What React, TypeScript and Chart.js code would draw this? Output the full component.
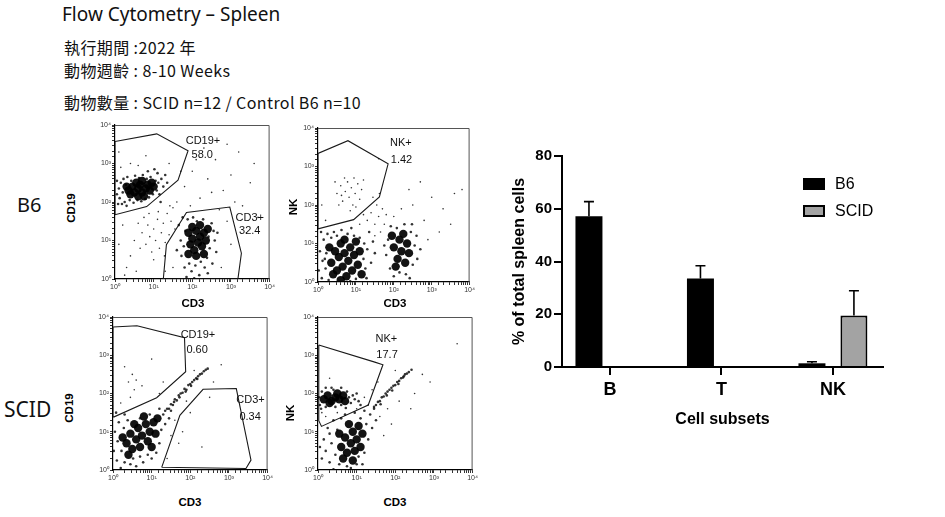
import { useEffect, useRef } from "react";
import { Chart, registerables } from "chart.js";

Chart.register(...registerables);

type Pt = [number, number];

const FONT = '"Liberation Sans", Arial, sans-serif';

// ---- bar chart data ----
const subsets = ["B", "T", "NK"];
const b6Values = [57.2, 33.6, 1.4];
const b6Errors = [5.5, 4.8, 0.6];
const scidValues = [0, 0, 19.5];
const scidErrors = [0, 0, 9.4];
const percentTicks = [0, 20, 40, 60, 80];

// ---- flow plots, points in decades (log10) ----
const decadeTicks = [0, 1, 2, 3, 4];

const b6CD19Core: Pt[] = [[0.35,2.3],[0.45,2.4],[0.5,2.25],[0.6,2.35],[0.65,2.45],[0.7,2.25],[0.8,2.35],[0.85,2.45],[0.9,2.3],[0.55,2.5],[0.4,2.2],[0.75,2.15],[1.0,2.4],[0.3,2.4],[0.95,2.5],[0.6,2.15],[0.7,2.55],[1.9,1.2],[2.0,1.05],[2.1,1.25],[2.2,1.1],[2.3,1.2],[1.95,0.9],[2.05,0.75],[2.15,0.95],[2.25,0.85],[2.35,1.0],[2.0,1.35],[2.2,1.4],[2.1,0.6],[2.3,0.65],[1.9,0.65],[2.4,1.3]];
const b6CD19Dense: Pt[] = [[0.05,2.2],[0.1,2.35],[0.12,2.1],[0.15,2.5],[0.2,2.25],[0.22,2.6],[0.25,2.0],[0.28,2.45],[0.18,1.95],[0.32,2.65],[0.38,2.05],[0.42,2.55],[0.48,1.98],[0.52,2.68],[0.58,2.05],[0.62,2.62],[0.68,2.02],[0.72,2.7],[0.78,2.08],[0.82,2.6],[0.88,2.12],[0.92,2.65],[0.98,2.2],[1.05,2.55],[1.08,2.3],[1.12,2.5],[1.15,2.2],[1.2,2.6],[1.25,2.4],[1.3,2.7],[1.1,2.75],[1.02,2.85],[0.85,2.8],[0.05,2.55],[0.08,1.95],[1.35,2.5],[1.18,2.0],[0.3,1.9],[1.65,1.4],[1.7,1.0],[1.72,0.6],[1.75,1.6],[1.8,0.3],[1.82,1.25],[1.85,0.05],[1.88,1.55],[1.92,0.4],[1.98,0.2],[2.02,1.6],[2.08,0.35],[2.12,1.5],[2.18,0.1],[2.22,0.45],[2.28,1.55],[2.32,0.3],[2.38,0.55],[2.42,1.1],[2.45,0.8],[2.5,1.45],[2.52,0.4],[2.58,1.0],[2.62,0.7],[2.4,0.15],[2.05,0.02],[1.78,0.85],[2.55,1.25],[2.65,1.2],[1.6,0.75]];
const b6CD19Sparse: Pt[] = [[0.7,1.2],[0.8,0.9],[0.85,1.4],[0.9,1.1],[0.95,0.7],[1.0,1.3],[1.05,1.0],[1.1,1.55],[1.15,0.8],[1.2,1.2],[1.25,1.45],[1.3,0.95],[1.35,1.7],[1.4,1.15],[1.45,1.5],[1.5,1.85],[1.55,1.3],[1.6,2.0],[0.75,1.6],[0.65,0.8],[1.0,0.5],[1.12,1.75],[0.88,1.7],[1.28,0.6],[1.42,1.9],[0.6,1.45],[0.5,1.0],[0.4,0.6],[0.3,0.3],[0.55,0.2],[1.8,2.4],[2.0,2.8],[2.2,2.1],[2.4,2.6],[2.6,3.1],[2.8,2.3],[3.0,2.7],[3.2,3.3],[3.5,2.5],[2.3,3.4],[1.95,1.9],[2.7,1.8],[3.1,2.0],[2.5,2.25],[3.6,3.0],[2.9,3.5],[1.7,2.8],[2.1,3.1],[3.3,1.9],[3.4,1.2],[3.0,0.9],[2.9,1.5],[0.1,3.3],[0.4,3.0],[0.8,3.2],[0.2,1.4],[0.1,0.9],[0.25,0.1],[1.5,0.3],[1.3,0.2],[0.15,2.9],[0.6,2.95],[1.4,3.0],[3.7,1.6],[2.75,0.3]];
const b6CD19Gate: Pt[] = [[0,3.57],[1.08,3.77],[1.89,3.33],[1.63,2.57],[0.82,1.88],[0,1.67]];
const b6CD3Gate: Pt[] = [[1.25,0],[1.33,0.89],[1.85,1.73],[2.97,1.87],[3.27,0.67],[3.18,0]];

const b6NKCore: Pt[] = [[0.35,0.5],[0.45,0.8],[0.5,0.3],[0.55,0.65],[0.6,1.0],[0.65,0.4],[0.7,0.75],[0.75,0.15],[0.8,0.55],[0.85,0.9],[0.9,0.3],[0.95,0.7],[1.0,1.05],[1.05,0.45],[1.1,0.8],[0.4,0.2],[0.7,1.1],[1.15,0.2],[0.3,0.9],[0.6,0.05],[2.0,0.9],[2.1,0.6],[2.15,1.1],[2.2,0.8],[2.3,0.5],[2.35,1.0],[2.25,1.25],[2.05,0.4],[2.4,0.75],[1.95,1.2]];
const b6NKDense: Pt[] = [[0.02,0.3],[0.05,0.8],[0.1,0.1],[0.12,0.55],[0.15,1.1],[0.2,0.35],[0.22,0.75],[0.25,1.25],[0.28,0.05],[0.35,1.15],[0.42,1.3],[0.5,1.2],[0.62,1.35],[0.78,1.25],[0.88,1.4],[0.95,1.2],[1.1,1.15],[1.2,0.6],[1.22,1.0],[1.25,0.35],[1.3,0.85],[1.35,1.3],[1.4,0.5],[1.45,1.05],[1.28,0.1],[0.85,0.02],[1.0,0.08],[0.08,1.3],[0.18,0.6],[1.5,0.75],[1.8,0.7],[1.85,1.1],[1.9,0.35],[1.92,1.45],[2.0,0.15],[2.08,1.4],[2.15,0.25],[2.28,1.5],[2.32,0.2],[2.45,1.3],[2.5,0.45],[2.55,0.95],[2.6,1.2],[2.62,0.6],[2.42,0.1],[1.75,0.95],[2.48,1.5],[2.7,0.85]];
const b6NKSparse: Pt[] = [[0.5,2.3],[0.6,2.5],[0.65,2.1],[0.72,2.35],[0.78,2.6],[0.82,2.2],[0.88,2.45],[0.92,2.0],[0.98,2.3],[1.05,2.55],[1.1,2.15],[0.55,2.0],[0.7,2.7],[1.15,2.4],[0.45,2.6],[0.85,1.85],[1.2,2.65],[0.62,2.25],[0.95,2.7],[1.0,1.95],[1.3,1.6],[1.4,1.8],[1.5,1.5],[1.55,2.0],[1.6,1.7],[1.65,1.3],[1.7,1.9],[1.5,1.2],[1.2,1.75],[1.75,1.5],[1.45,2.2],[1.8,1.75],[1.62,2.3],[2.0,1.7],[1.1,1.5],[2.5,2.0],[2.8,1.6],[3.0,2.2],[3.3,1.9],[3.6,2.3],[3.2,1.3],[2.9,1.1],[1.6,3.2],[2.7,2.6],[3.5,1.5],[0.2,1.6],[0.1,2.0],[2.2,1.9],[3.8,2.4],[2.4,2.4]];
const b6NKGate: Pt[] = [[0,3.34],[0.79,3.67],[1.85,3.07],[1.62,2.21],[0.94,1.62],[0,1.38]];

const scidCD19Core: Pt[] = [[0.35,0.7],[0.45,0.95],[0.5,0.55],[0.6,0.8],[0.65,1.1],[0.7,0.6],[0.75,0.9],[0.85,1.2],[0.9,0.75],[0.95,1.0],[1.05,1.25],[1.1,0.95],[1.15,1.35],[0.55,1.2],[0.8,1.4],[0.4,0.4],[0.25,0.85],[1.0,0.6]];
const scidCD19Dense: Pt[] = [[0.02,0.5],[0.05,1.0],[0.1,0.25],[0.12,0.75],[0.15,1.25],[0.2,0.05],[0.22,0.5],[0.28,1.1],[0.3,0.2],[0.38,1.3],[0.45,0.15],[0.52,0.3],[0.6,0.1],[0.7,0.35],[0.78,0.2],[0.9,0.4],[1.0,0.3],[1.2,0.7],[1.25,1.05],[1.3,1.45],[1.35,1.2],[1.4,1.6],[1.45,1.35],[1.2,1.6],[0.95,1.45],[0.7,1.35],[0.08,1.5],[0.3,1.45],[1.5,1.55],[1.12,0.45],[1.35,1.55],[1.45,1.6],[1.5,1.72],[1.55,1.7],[1.6,1.85],[1.65,1.82],[1.7,1.95],[1.75,2.0],[1.8,2.02],[1.85,2.12],[1.9,2.1],[1.95,2.22],[2.0,2.25],[2.05,2.3],[2.1,2.35],[2.15,2.4],[2.2,2.45],[2.25,2.5],[2.3,2.52],[2.35,2.58],[2.4,2.62],[2.45,2.65],[1.58,1.78],[1.72,1.9],[1.88,2.05],[2.02,2.2],[2.18,2.38]];
const scidCD19Sparse: Pt[] = [[0.4,2.3],[0.5,2.5],[0.55,2.1],[0.6,2.35],[0.75,2.2],[0.45,1.9],[1.3,2.3],[1.0,2.9],[0.3,2.7],[1.6,1.3],[1.8,1.0],[2.0,1.5],[1.7,0.7],[1.9,1.8],[2.3,0.6],[2.5,1.9],[2.1,2.6],[0.2,1.75],[1.5,0.9],[2.6,2.3],[1.4,0.3],[2.8,2.75],[1.2,2.0]];
const scidCD19Gate: Pt[] = [[0,3.74],[0.62,3.77],[1.85,3.46],[1.88,2.57],[1.13,1.89],[0.03,1.39],[0,1.39]];
const scidCD3Gate: Pt[] = [[1.26,0.07],[1.73,1.43],[2.33,2.11],[3.19,2.13],[3.57,0.26],[3.44,0.04]];

const scidNKCore: Pt[] = [[0.15,1.85],[0.25,1.95],[0.35,1.8],[0.45,1.9],[0.55,1.85],[0.65,1.95],[0.3,1.75],[0.5,2.0],[0.7,1.8],[0.6,0.6],[0.7,0.85],[0.75,0.45],[0.85,0.7],[0.9,1.0],[0.95,0.5],[1.0,0.8],[1.05,1.15],[0.8,1.2],[0.65,0.3],[1.1,0.6],[0.55,0.95],[0.9,0.25],[1.15,0.95]];
const scidNKDense: Pt[] = [[0.02,1.9],[0.05,1.7],[0.1,2.05],[0.2,1.65],[0.4,2.1],[0.6,1.7],[0.75,2.05],[0.8,1.9],[0.85,1.75],[0.9,1.95],[0.95,1.85],[1.0,2.0],[1.05,1.8],[0.08,1.6],[0.35,2.15],[0.6,2.15],[0.45,1.65],[1.1,1.7],[0.2,2.15],[0.72,1.62],[0.1,0.3],[0.15,0.8],[0.2,0.5],[0.25,1.1],[0.3,0.2],[0.35,0.7],[0.4,1.3],[0.45,0.4],[0.5,1.05],[0.55,0.15],[0.6,1.35],[0.7,1.45],[0.75,0.1],[0.85,0.05],[1.0,0.15],[1.05,0.35],[1.1,1.35],[1.2,0.45],[1.25,1.2],[1.3,0.8],[1.35,1.45],[1.4,1.1],[1.45,1.6],[1.2,1.55],[0.95,1.5],[0.3,0.95],[0.05,0.6],[0.4,0.02],[1.5,1.3],[1.15,0.15],[1.45,1.65],[1.5,1.7],[1.55,1.78],[1.6,1.8],[1.65,1.9],[1.7,1.92],[1.75,2.0],[1.8,2.05],[1.85,2.1],[1.9,2.15],[1.95,2.2],[2.0,2.22],[2.05,2.3],[2.1,2.33],[2.15,2.4],[2.2,2.42],[2.25,2.5],[2.3,2.52],[2.35,2.56],[2.42,2.62],[1.62,1.72],[1.78,1.95],[1.92,2.08],[2.08,2.25],[2.22,2.45]];
const scidNKSparse: Pt[] = [[1.0,1.6],[1.2,1.9],[1.3,1.7],[0.2,1.4],[0.5,1.5],[1.6,1.4],[1.8,1.6],[1.9,1.2],[2.1,1.8],[2.5,2.0],[2.7,2.5],[3.6,3.3],[2.4,1.6],[0.3,2.4],[1.55,2.3],[2.0,2.6],[2.9,2.3],[1.7,0.9],[0.1,1.5],[1.4,2.1]];
const scidNKGate: Pt[] = [[0.02,3.27],[1.47,2.82],[1.68,2.75],[1.3,1.7],[0.09,1.14],[0.02,1.29]];

type GateLabel = { text: string; x: number; y: number };

const b6CD19Labels: GateLabel[] = [
  { text: "CD19+", x: 1.83, y: 3.59 },
  { text: "58.0", x: 1.98, y: 3.22 },
  { text: "CD3+", x: 3.12, y: 1.58 },
  { text: "32.4", x: 3.21, y: 1.24 },
];
const b6NKLabels: GateLabel[] = [
  { text: "NK+", x: 1.9, y: 3.6 },
  { text: "1.42", x: 1.92, y: 3.17 },
];
const scidCD19Labels: GateLabel[] = [
  { text: "CD19+", x: 1.75, y: 3.54 },
  { text: "0.60", x: 1.9, y: 3.15 },
  { text: "CD3+", x: 3.19, y: 1.83 },
  { text: "0.34", x: 3.27, y: 1.39 },
];
const scidNKLabels: GateLabel[] = [
  { text: "NK+", x: 1.49, y: 3.43 },
  { text: "17.7", x: 1.51, y: 3.0 },
];

const SUP = ["⁰", "¹", "²", "³", "⁴"];

function decadeLabel(value: number | string) {
  const e = Math.log10(Number(value));
  const r = Math.round(e);
  if (Math.abs(e - r) > 1e-6 || !decadeTicks.includes(r)) return "";
  return "10" + SUP[r];
}

type Box = { left: number; top: number; width: number; height: number };

function FlowPlot({
  box,
  core,
  dense,
  sparse,
  gates,
  labels,
}: {
  box: Box;
  core: Pt[];
  dense: Pt[];
  sparse: Pt[];
  gates: Pt[][];
  labels: GateLabel[];
}) {
  const ref = useRef<HTMLCanvasElement>(null);

  useEffect(() => {
    if (!ref.current) return;
    const ctx = ref.current.getContext("2d");
    if (!ctx) return;

    const toXY = (p: Pt) => ({ x: 10 ** p[0], y: 10 ** p[1] });

    const framePlugin = {
      id: "frame",
      afterDraw(chart: Chart) {
        const { ctx: c, chartArea: a } = chart;
        const sx = chart.scales.x;
        const sy = chart.scales.y;
        c.save();
        c.strokeStyle = "#555";
        c.lineWidth = 1;
        c.beginPath();
        c.moveTo(a.left, a.top + 0.5);
        c.lineTo(a.right - 0.5, a.top + 0.5);
        c.lineTo(a.right - 0.5, a.bottom);
        c.stroke();
        c.fillStyle = "#111";
        c.font = `11px ${FONT}`;
        c.textBaseline = "middle";
        labels.forEach((l) => {
          c.fillText(l.text, sx.getPixelForValue(10 ** l.x), sy.getPixelForValue(10 ** l.y));
        });
        c.restore();
      },
    };

    const axis = (fit: (s: any) => void) => ({
      type: "logarithmic" as const,
      min: 1,
      max: 10000,
      border: { color: "#000", width: 1.2 },
      grid: { drawOnChartArea: false, tickLength: 3, color: "#000", lineWidth: 0.8 },
      ticks: {
        autoSkip: false,
        maxRotation: 0,
        padding: 1,
        color: "#333",
        font: { size: 7, family: FONT },
        callback: decadeLabel,
      },
      afterFit: fit,
    });

    const chart = new Chart(ctx, {
      type: "scatter",
      data: {
        datasets: [
          { data: sparse.map(toXY), pointRadius: 0.8, backgroundColor: "rgba(0,0,0,0.8)", borderWidth: 0 },
          { data: dense.map(toXY), pointRadius: 1.3, backgroundColor: "rgba(0,0,0,0.8)", borderWidth: 0 },
          { data: core.map(toXY), pointRadius: 4.2, backgroundColor: "rgba(0,0,0,0.92)", borderWidth: 0 },
          ...gates.map((g) => ({
            data: [...g, g[0]].map(toXY),
            showLine: true,
            pointRadius: 0,
            borderColor: "#1a1a1a",
            borderWidth: 1.1,
            fill: false,
          })),
        ],
      },
      options: {
        responsive: true,
        maintainAspectRatio: false,
        animation: false,
        layout: { padding: { top: 7, right: 6, left: 0, bottom: 0 } },
        plugins: { legend: { display: false }, tooltip: { enabled: false } },
        scales: {
          x: axis((s) => {
            s.height = 14;
          }),
          y: axis((s) => {
            s.width = 20;
          }),
        },
      },
      plugins: [framePlugin],
    });

    return () => chart.destroy();
  }, []);

  return (
    <div
      style={{
        position: "absolute",
        left: box.left - 20,
        top: box.top - 7,
        width: box.width + 26,
        height: box.height + 21,
      }}
    >
      <canvas ref={ref} />
    </div>
  );
}

function BarChart() {
  const ref = useRef<HTMLCanvasElement>(null);

  useEffect(() => {
    if (!ref.current) return;
    const ctx = ref.current.getContext("2d");
    if (!ctx) return;

    const values = [b6Values, scidValues];
    const errors = [b6Errors, scidErrors];

    const errorBars = {
      id: "errorBars",
      afterDatasetsDraw(chart: Chart) {
        const { ctx: c } = chart;
        const sy = chart.scales.y;
        c.save();
        c.strokeStyle = "#000";
        c.lineWidth = 1.6;
        chart.data.datasets.forEach((_, di) => {
          chart.getDatasetMeta(di).data.forEach((bar: any, i) => {
            const e = errors[di][i];
            if (!e) return;
            const top = sy.getPixelForValue(values[di][i] + e);
            c.beginPath();
            c.moveTo(bar.x, bar.y);
            c.lineTo(bar.x, top);
            c.moveTo(bar.x - 5, top);
            c.lineTo(bar.x + 5, top);
            c.stroke();
          });
        });
        c.restore();
      },
    };

    const legend = {
      id: "boxLegend",
      afterDraw(chart: Chart) {
        const { ctx: c } = chart;
        c.save();
        c.font = `16px ${FONT}`;
        c.textBaseline = "middle";
        chart.data.datasets.forEach((ds: any, i) => {
          const y = 44 + i * 27;
          c.fillStyle = ds.backgroundColor;
          c.fillRect(303, y - 6, 22, 12);
          c.strokeStyle = "#000";
          c.lineWidth = 2;
          c.strokeRect(304, y - 5, 20, 10);
          c.fillStyle = "#000";
          c.fillText(ds.label, 335, y + 1);
        });
        c.restore();
      },
    };

    const chart = new Chart(ctx, {
      type: "bar",
      data: {
        datasets: [
          {
            label: "B6",
            data: b6Values.map((y, i) => ({ x: i, y })),
            backgroundColor: "#000",
            borderColor: "#000",
            borderWidth: 0,
            categoryPercentage: 0.753,
            barPercentage: 0.643,
          },
          {
            label: "SCID",
            data: scidValues.map((y, i) => ({ x: i, y })),
            backgroundColor: "#a3a3a3",
            borderColor: "#000",
            borderWidth: 2,
            categoryPercentage: 0.753,
            barPercentage: 0.643,
          },
        ],
      },
      options: {
        responsive: true,
        maintainAspectRatio: false,
        animation: false,
        layout: { padding: { top: 16, right: 37, left: 0, bottom: 0 } },
        plugins: { legend: { display: false }, tooltip: { enabled: false } },
        scales: {
          x: {
            type: "linear",
            min: -0.43,
            max: 2.449,
            offset: false,
            border: { color: "#000", width: 2 },
            grid: { drawOnChartArea: false, offset: false, tickLength: 8, color: "#000", lineWidth: 2 },
            ticks: {
              color: "#000",
              padding: 4,
              font: { size: 18, weight: "bold", family: FONT },
              callback: (_v: any, i: number) => subsets[i] ?? "",
            },
            afterBuildTicks: (s: any) => {
              s.ticks = subsets.map((_, i) => ({ value: i }));
            },
            afterFit: (s: any) => {
              s.height = 63;
            },
            title: {
              display: true,
              text: "Cell subsets",
              color: "#000",
              font: { size: 16, weight: "bold", family: FONT },
              padding: { top: 0, bottom: 1 },
            },
          },
          y: {
            min: 0,
            max: 80,
            border: { color: "#000", width: 2 },
            grid: { drawOnChartArea: false, tickLength: 8, color: "#000", lineWidth: 2 },
            ticks: {
              color: "#000",
              padding: 2,
              font: { size: 15, weight: "bold", family: FONT },
              stepSize: 20,
            },
            afterBuildTicks: (s: any) => {
              s.ticks = percentTicks.map((value) => ({ value }));
            },
            afterFit: (s: any) => {
              s.width = 62;
            },
            title: {
              display: true,
              text: "% of total spleen cells",
              color: "#000",
              font: { size: 16, weight: "bold", family: FONT },
              padding: { top: 10, bottom: 0 },
            },
          },
        },
      },
      plugins: [errorBars, legend],
    });

    return () => chart.destroy();
  }, []);

  return (
    <div style={{ position: "absolute", left: 500, top: 140, width: 420, height: 290 }}>
      <canvas ref={ref} />
    </div>
  );
}

function Text({
  x,
  y,
  size,
  children,
  bold,
  rotate,
}: {
  x: number;
  y: number;
  size: number;
  children: string;
  bold?: boolean;
  rotate?: boolean;
}) {
  return (
    <div
      style={{
        position: "absolute",
        left: x,
        top: y,
        fontSize: size,
        lineHeight: 1,
        fontWeight: bold ? "bold" : "normal",
        fontFamily: FONT,
        whiteSpace: "nowrap",
        color: "#000",
        transform: rotate ? "translate(-50%,-50%) rotate(-90deg)" : "translate(-50%,-50%)",
      }}
    >
      {children}
    </div>
  );
}

function Line({
  x,
  y,
  size,
  family,
  spacing,
  children,
}: {
  x: number;
  y: number;
  size: number;
  family: string;
  spacing?: number;
  children: string;
}) {
  return (
    <div
      style={{
        position: "absolute",
        left: x,
        top: y,
        fontSize: size,
        lineHeight: 1,
        fontFamily: family,
        letterSpacing: spacing ?? 0,
        whiteSpace: "nowrap",
        color: "#111",
      }}
    >
      {children}
    </div>
  );
}

export default function App() {
  const cjk = '"Noto Sans CJK TC", "Noto Sans", sans-serif';
  const latin = '"Noto Sans", "Open Sans", sans-serif';
  return (
    <div style={{ position: "absolute", left: 0, top: 0, width: 945, height: 517, background: "#fff", overflow: "hidden" }}>
      <Line x={62} y={5} size={19} family={latin}>Flow Cytometry – Spleen</Line>
      <Line x={64} y={39} size={16} family={cjk} spacing={0.4}>執行期間 :2022 年</Line>
      <Line x={64} y={62} size={16} family={cjk} spacing={0.4}>動物週齡 : 8-10 Weeks</Line>
      <Line x={64} y={94} size={16} family={cjk} spacing={0.4}>動物數量 : SCID n=12 / Control B6 n=10</Line>

      <Line x={17} y={195} size={20} family={latin}>B6</Line>
      <Line x={4} y={399} size={21} family={latin}>SCID</Line>

      <FlowPlot
        box={{ left: 115, top: 125, width: 155, height: 154 }}
        core={b6CD19Core}
        dense={b6CD19Dense}
        sparse={b6CD19Sparse}
        gates={[b6CD19Gate, b6CD3Gate]}
        labels={b6CD19Labels}
      />
      <FlowPlot
        box={{ left: 318, top: 128, width: 152, height: 154 }}
        core={b6NKCore}
        dense={b6NKDense}
        sparse={b6NKSparse}
        gates={[b6NKGate]}
        labels={b6NKLabels}
      />
      <FlowPlot
        box={{ left: 113, top: 317, width: 155, height: 153 }}
        core={scidCD19Core}
        dense={scidCD19Dense}
        sparse={scidCD19Sparse}
        gates={[scidCD19Gate, scidCD3Gate]}
        labels={scidCD19Labels}
      />
      <FlowPlot
        box={{ left: 318, top: 317, width: 155, height: 153 }}
        core={scidNKCore}
        dense={scidNKDense}
        sparse={scidNKSparse}
        gates={[scidNKGate]}
        labels={scidNKLabels}
      />

      <Text x={72} y={208} size={11.5} bold rotate>CD19</Text>
      <Text x={70} y={408} size={11.5} bold rotate>CD19</Text>
      <Text x={294} y={207} size={11.5} bold rotate>NK</Text>
      <Text x={291} y={413} size={11.5} bold rotate>NK</Text>
      <Text x={193} y={304} size={11.5} bold>CD3</Text>
      <Text x={395} y={304} size={11.5} bold>CD3</Text>
      <Text x={190} y={503} size={11.5} bold>CD3</Text>
      <Text x={395} y={503} size={11.5} bold>CD3</Text>

      <BarChart />
    </div>
  );
}
